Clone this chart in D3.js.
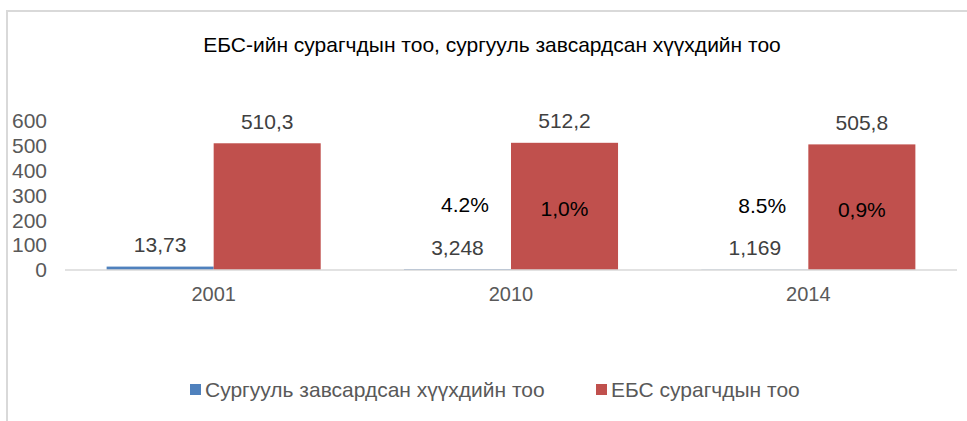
<!DOCTYPE html>
<html>
<head>
<meta charset="utf-8">
<script src="https://cdn.jsdelivr.net/npm/d3@7"></script>
<style>
  html, body { margin: 0; padding: 0; background: #fff; }
  svg { display: block; font-family: "Liberation Sans", Arial, sans-serif; }
</style>
</head>
<body>
<svg id="chart" width="967" height="421"></svg>
<script>
const title = "ЕБС-ийн сурагчдын тоо, сургууль завсардсан хүүхдийн тоо";
const categories = ["2001", "2010", "2014"];
const seriesNames = ["Сургууль завсардсан хүүхдийн тоо", "ЕБС сурагчдын тоо"];
const dropoutValues = [13.73, 3.248, 1.169];
const studentValues = [510.3, 512.2, 505.8];
const dropoutLabels = ["13,73", "3,248", "1,169"];
const studentLabels = ["510,3", "512,2", "505,8"];
const dropoutPctLabels = ["", "4.2%", "8.5%"];
const studentPctLabels = ["", "1,0%", "0,9%"];
const yTicks = [0, 100, 200, 300, 400, 500, 600];
const colors = ["#4f81bd", "#c0504d"];

const svg = d3.select("#chart");
const W = 967, H = 421;
const plot = { left: 65, right: 957, top: 121, bottom: 270 };
const FS = 21;

// border
svg.append("path")
  .attr("d", `M7,${H} L7,11 L${W},11`)
  .attr("fill", "none").attr("stroke", "#d9d9d9").attr("stroke-width", 2);

// title
svg.append("text")
  .attr("x", 492).attr("y", 52)
  .attr("text-anchor", "middle")
  .attr("font-size", 21).attr("fill", "#000")
  .text(title);

const x0 = d3.scaleBand().domain(categories)
  .range([plot.left, plot.right]).paddingInner(0.28).paddingOuter(0.14);
const x1 = d3.scaleBand().domain([0, 1]).range([0, x0.bandwidth()]);
const y = d3.scaleLinear().domain([0, 600]).range([plot.bottom, plot.top]);

// y axis labels
const yAxis = d3.axisLeft(y).tickValues(yTicks).tickSize(0).tickPadding(0).tickFormat(d3.format("d"));
const gy = svg.append("g").attr("transform", `translate(47,0)`).call(yAxis);
gy.select(".domain").remove();
gy.selectAll("text").attr("font-size", FS).attr("fill", "#595959")
  .attr("font-family", "Liberation Sans, Arial, sans-serif");

const data = categories.map((c, i) => ({
  cat: c,
  vals: [dropoutValues[i], studentValues[i]],
  labels: [dropoutLabels[i], studentLabels[i]],
  pcts: [dropoutPctLabels[i], studentPctLabels[i]]
}));

const groups = svg.append("g").selectAll("g").data(data).join("g")
  .attr("transform", d => `translate(${x0(d.cat)},0)`);

groups.selectAll("rect").data(d => d.vals.map((v, s) => ({ v, s })))
  .join("rect")
  .attr("x", d => x1(d.s)).attr("width", x1.bandwidth())
  .attr("y", d => y(d.v)).attr("height", d => y(0) - y(d.v))
  .attr("fill", d => colors[d.s]);

// value labels
groups.selectAll("text.val").data(d => d.vals.map((v, s) => ({ v, s, label: d.labels[s] })))
  .join("text").attr("class", "val")
  .attr("x", d => x1(d.s) + x1.bandwidth() / 2)
  .attr("y", d => y(d.v) - 22)
  .attr("dy", "0.35em")
  .attr("text-anchor", "middle").attr("font-size", FS).attr("fill", "#404040")
  .text(d => d.label);

// percent labels
groups.each(function(d) {
  const g = d3.select(this);
  const redMid = (y(d.vals[1]) + y(0)) / 2;
  if (d.pcts[0]) {
    g.append("text")
      .attr("x", x1(0) + x1.bandwidth() * 0.57)
      .attr("y", redMid - 2).attr("dy", "0.35em")
      .attr("text-anchor", "middle").attr("font-size", FS).attr("fill", "#000")
      .text(d.pcts[0]);
  }
  if (d.pcts[1]) {
    g.append("text")
      .attr("x", x1(1) + x1.bandwidth() / 2)
      .attr("y", redMid + 2).attr("dy", "0.35em")
      .attr("text-anchor", "middle").attr("font-size", FS).attr("fill", "#000")
      .text(d.pcts[1]);
  }
});

// baseline
svg.append("line")
  .attr("x1", plot.left).attr("x2", plot.right)
  .attr("y1", y(0)).attr("y2", y(0))
  .attr("stroke", "#d9d9d9").attr("stroke-width", 1.5);

// x axis labels
const xAxis = d3.axisBottom(x0).tickSize(0).tickPadding(0);
const gx = svg.append("g").attr("transform", `translate(0,${y(0)})`).call(xAxis);
gx.select(".domain").remove();
gx.selectAll("text").attr("font-size", 20).attr("fill", "#595959")
  .attr("font-family", "Liberation Sans, Arial, sans-serif")
  .attr("y", 24).attr("dy", "0.35em");

// legend
const legend = svg.append("g");
const legendX = [190, 596];
seriesNames.forEach((name, i) => {
  const g = legend.append("g").attr("transform", `translate(${legendX[i]},390)`);
  g.append("rect").attr("x", 0).attr("y", -6).attr("width", 11).attr("height", 11).attr("fill", colors[i]);
  g.append("text").attr("x", 15).attr("y", 0).attr("dy", "0.35em")
    .attr("font-size", FS).attr("fill", "#595959").text(name);
});
</script>
</body>
</html>
